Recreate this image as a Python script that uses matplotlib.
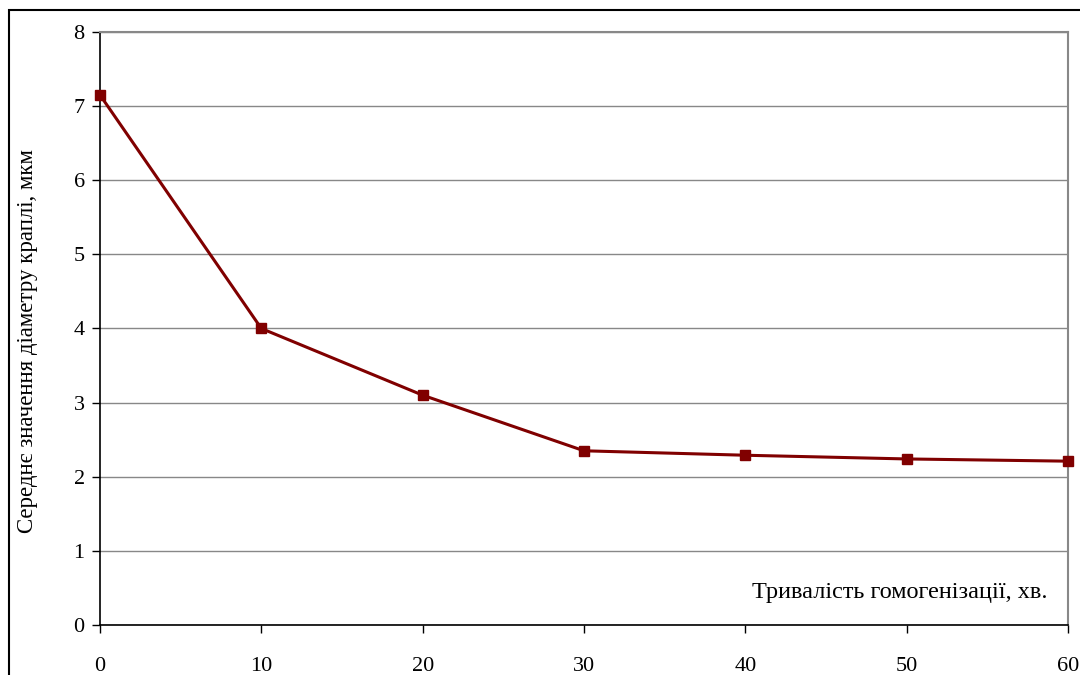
import matplotlib.pyplot as plt
import matplotlib as mpl
from matplotlib.patches import Rectangle

mpl.rcParams.update({
    "font.family": ["Liberation Serif", "DejaVu Serif"],
    "font.size": 16.5,
})

# data
minutes = [0, 10, 20, 30, 40, 50, 60]
diameter = [7.15, 4.0, 3.1, 2.35, 2.29, 2.24, 2.21]

COLOR_LINE = "#800000"

fig = plt.figure(figsize=(10.8, 6.75), dpi=100)
ax = fig.add_axes([0.0926, 0.0741, 0.8963, 0.8785])

# outer frame (cropped at right and bottom like the reference)
fig.patches.append(Rectangle((0.0085, -0.05), 1.1, 1.0352,
                             transform=fig.transFigure, fill=False,
                             edgecolor="black", linewidth=1.5))

ax.plot(minutes, diameter, "-s", color=COLOR_LINE, lw=2.2, ms=7,
        mfc=COLOR_LINE, mec=COLOR_LINE, clip_on=False, zorder=5)

ax.set_xlim(0, 60)
ax.set_ylim(0, 8)
ax.set_xticks(range(0, 61, 10))
ax.set_yticks(range(0, 9))
ax.grid(True, axis="y", color="#888888", linewidth=1.0)
ax.set_axisbelow(True)

for side in ("top", "right"):
    ax.spines[side].set_color("#888888")
    ax.spines[side].set_linewidth(1.5)
for side in ("left", "bottom"):
    ax.spines[side].set_color("black")
    ax.spines[side].set_linewidth(1.2)

ax.tick_params(axis="both", direction="out", length=6, width=1.0, labelsize=16)
ax.tick_params(axis="x", pad=17)
ax.tick_params(axis="y", pad=5)

ax.set_ylabel("Середнє значення діаметру краплі, мкм", fontsize=16.5,
              va="center")
ax.yaxis.set_label_coords(-0.0754, 0.479)
ax.text(0.979, 0.055, "Тривалість гомогенізації, хв.", transform=ax.transAxes,
        ha="right", va="center", fontsize=17.5)

fig.savefig("out.png", dpi=100)
